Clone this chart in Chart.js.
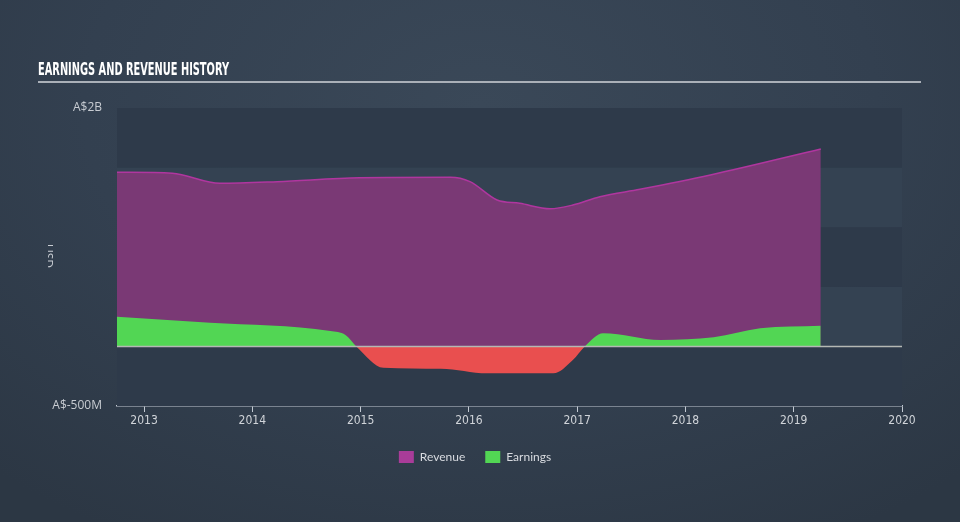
<!DOCTYPE html>
<html><head><meta charset="utf-8">
<script src="https://cdn.jsdelivr.net/npm/chart.js@4/dist/chart.umd.min.js"></script>
<style>
html,body{margin:0;padding:0;width:960px;height:522px;overflow:hidden;
background:radial-gradient(ellipse 75% 95% at 50% 20%, #3a4858 0%, #334050 55%, #2c3744 100%);}
#wrap{width:960px;height:522px;position:relative}
canvas{display:block}
</style></head><body>
<div id="wrap"><canvas id="c" width="960" height="522"></canvas></div>
<script>
const chartTitle = 'EARNINGS AND REVENUE HISTORY';
const yAxisTitle = 'USD';
const seriesNames = ['Revenue', 'Earnings'];
const revenueYears  = [2012.75, 2013.26, 2013.70, 2014.23, 2014.99, 2015.83, 2016.01, 2016.26, 2016.47, 2016.75, 2016.96, 2017.21, 2017.58, 2018.23, 2019.25];
const revenueValues = [1461,    1452,    1368,    1382,    1415,    1419,    1382,    1228,    1200,    1155,    1186,    1256,    1318,    1438,    1656];
const earningsYears  = [2012.75, 2013.61, 2014.72, 2014.86, 2014.96, 2015.21, 2015.74, 2016.17, 2016.78, 2016.96, 2017.07, 2017.24, 2017.77, 2018.26, 2018.69, 2019.25];
const earningsValues = [249,     199,     129,     96,      0,       -179,    -187,    -226,    -226,    -114,    0,       110,     54,      76,      152,     174];
const xTickYears = [2013, 2014, 2015, 2016, 2017, 2018, 2019, 2020];
const yTickValues = [-500, 2000];
const yTickLabels = ['A$-500M', 'A$2B'];
const bandEdges = [-500, 0, 500, 1000, 1500, 2000];

const revenueData = revenueYears.map((x, i) => ({x, y: revenueValues[i]}));
const earningsData = earningsYears.map((x, i) => ({x, y: earningsValues[i]}));

const decor = {
  id: 'decor',
  beforeDatasetsDraw(chart) {
    const {ctx, chartArea: a, scales: {y}} = chart;
    ctx.save();
    for (let i = 0; i < bandEdges.length - 1; i++) {
      const top = y.getPixelForValue(bandEdges[i + 1]);
      const bot = y.getPixelForValue(bandEdges[i]);
      ctx.fillStyle = (i % 2 === 0) ? '#2e3a4a' : '#344252';
      ctx.fillRect(a.left, top, a.right - a.left, bot - top);
    }
    ctx.restore();
  },
  afterDatasetsDraw(chart) {
    const {ctx, chartArea: a, scales: {y}} = chart;
    const y0 = Math.round(y.getPixelForValue(0)) + 0.5;
    ctx.save();
    ctx.strokeStyle = '#b4b8b4';
    ctx.lineWidth = 1.5;
    ctx.beginPath(); ctx.moveTo(a.left, y0); ctx.lineTo(a.right, y0); ctx.stroke();
    ctx.restore();
  },
  afterDraw(chart) {
    const {ctx} = chart;
    ctx.save();
    ctx.font = 'bold 17px "Liberation Sans Narrow", "DejaVu Sans Condensed", sans-serif';
    const w = ctx.measureText(chartTitle).width;
    ctx.fillStyle = '#ffffff';
    ctx.textBaseline = 'alphabetic';
    ctx.textAlign = 'left';
    ctx.translate(38, 75);
    ctx.scale(191 / w, 1);
    ctx.fillText(chartTitle, 0, 0);
    ctx.setTransform(1, 0, 0, 1, 0, 0);
    ctx.strokeStyle = '#aab0b8';
    ctx.lineWidth = 2;
    ctx.beginPath(); ctx.moveTo(38, 82); ctx.lineTo(921, 82); ctx.stroke();
    ctx.beginPath(); ctx.rect(48, 230, 30, 60); ctx.clip();
    ctx.translate(47, 256);
    ctx.rotate(Math.PI / 2);
    ctx.font = '12px "Open Sans", sans-serif';
    ctx.fillStyle = '#c8ccd2';
    ctx.textAlign = 'center';
    ctx.textBaseline = 'middle';
    ctx.fillText(yAxisTitle, 0, 0);
    ctx.restore();
  }
};

new Chart(document.getElementById('c'), {
  type: 'line',
  data: {
    datasets: [
      {
        label: seriesNames[0], data: revenueData, order: 1,
        borderColor: '#b0369f', borderWidth: 1.5,
        backgroundColor: '#7a3975', fill: 'origin',
        pointRadius: 0, cubicInterpolationMode: 'monotone'
      },
      {
        label: seriesNames[1], data: earningsData, order: 0,
        borderColor: 'rgba(0,0,0,0)', borderWidth: 0,
        backgroundColor: '#52d654',
        fill: {target: 'origin', above: '#52d654', below: '#e94f4f'},
        pointRadius: 0, cubicInterpolationMode: 'monotone'
      }
    ]
  },
  options: {
    responsive: false, animation: false, devicePixelRatio: 1,
    layout: {padding: {top: 108, right: 58, bottom: 49, left: 48}},
    plugins: {
      tooltip: {enabled: false},
      legend: {
        position: 'bottom',
        labels: {
          boxWidth: 15, boxHeight: 12, padding: 20, color: '#d8dbe0',
          font: {family: 'Lato, "Open Sans", sans-serif', size: 12},
          generateLabels: (chart) => seriesNames.map((n, i) => ({
            text: n, datasetIndex: i, fillStyle: i === 0 ? '#a93c99' : '#52d654',
            strokeStyle: 'rgba(0,0,0,0)', lineWidth: 0, fontColor: '#d8dbe0', hidden: false
          }))
        }
      }
    },
    scales: {
      x: {
        type: 'linear', min: 2012.75, max: 2020,
        afterBuildTicks: (s) => { s.ticks = xTickYears.map(v => ({value: v})); },
        afterFit: (s) => { s.height = 25; },
        grid: {display: true, drawOnChartArea: false, drawTicks: true, tickLength: 6, color: '#c3cad3'},
        border: {display: true, color: '#c3cad3', width: 1.5},
        ticks: {color: '#d0d4d9', font: {family: '"DejaVu Sans Condensed", "Liberation Sans Narrow", sans-serif', size: 12}, padding: 2,
                maxRotation: 0, autoSkip: false, callback: v => String(v)}
      },
      y: {
        min: -500, max: 2000,
        afterBuildTicks: (s) => { s.ticks = yTickValues.map(v => ({value: v})); },
        afterFit: (s) => { s.width = 69; },
        grid: {display: false, drawTicks: false},
        border: {display: false},
        ticks: {color: '#c8ccd2', font: {family: '"Open Sans", sans-serif', size: 12}, padding: 15,
                callback: (v) => { const i = yTickValues.indexOf(v); return i >= 0 ? yTickLabels[i] : ''; }}
      }
    }
  },
  plugins: [decor]
});
</script>
</body></html>
